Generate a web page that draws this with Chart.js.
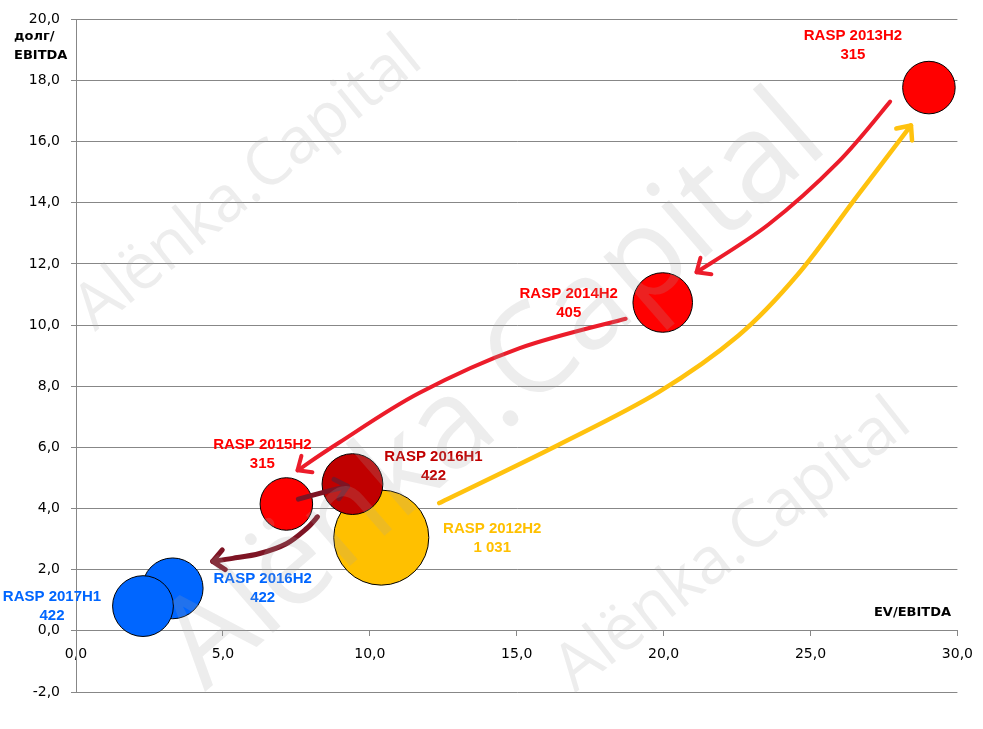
<!DOCTYPE html>
<html>
<head>
<meta charset="utf-8">
<script src="https://cdn.jsdelivr.net/npm/chart.js@4.4.0/dist/chart.umd.min.js"></script>
<style>
  html, body { margin: 0; padding: 0; background: #fff; }
  #wrap { width: 983px; height: 729px; }
</style>
</head>
<body>
<div id="wrap"><canvas id="raspChart"></canvas></div>
<script>
// данные: период, EV/EBITDA, долг/EBITDA, капитализация
const periods = ['RASP 2012H2', 'RASP 2013H2', 'RASP 2014H2', 'RASP 2015H2', 'RASP 2016H1', 'RASP 2016H2', 'RASP 2017H1'];
const evEbitda = [10.39, 29.03, 19.97, 7.16, 9.41, 3.29, 2.28];
const debtEbitda = [3.05, 17.77, 10.74, 4.15, 4.80, 1.39, 0.81];
const marketCap = [1031, 315, 405, 315, 422, 422, 422];

const xTicks = [0, 5, 10, 15, 20, 25, 30];
const yTicks = [-2, 0, 2, 4, 6, 8, 10, 12, 14, 16, 18, 20];

// стрелки (в координатах графика)
const arrow2012to2013 = [[12.36, 4.18], [16.43, 6.09], [19.83, 7.81], [22.55, 9.66], [24.58, 11.67], [26.62, 14.26], [28.42, 16.53]];
const arrow2013to2014 = [[27.71, 17.31], [25.94, 15.33], [23.57, 13.29], [21.12, 11.73]];
const arrow2014to2015 = [[18.71, 10.21], [15.08, 9.24], [11.68, 7.78], [8.96, 6.16], [7.54, 5.25]];
const arrow2015to2016 = [[7.57, 4.31], [8.45, 4.54], [9.24, 4.73]];
const arrow2016to2016 = [[8.22, 3.73], [7.84, 3.34], [7.16, 2.85], [6.25, 2.53], [5.33, 2.37], [4.65, 2.27]];

// стили
const bubbleColors = ['#FFC000', '#FF0000', '#FF0000', '#FF0000', '#C00000', '#0066FF', '#0066FF'];
const labelColors = ['#FFC000', '#FF0000', '#FF0000', '#FF0000', '#C00000', '#0066FF', '#0066FF'];
const labelOffsets = [[111, -9], [-76, -52], [-94, -9], [-24, -59], [81, -27], [90, -9], [-91, -9]];
const arrows = [
    { path: arrow2012to2013, color: '#FFC20E', width: 4.5 },
    { path: arrow2013to2014, color: '#EC1C2A', width: 4 },
    { path: arrow2014to2015, color: '#EC1C2A', width: 4 },
    { path: arrow2015to2016, color: '#7E1424', width: 5 },
    { path: arrow2016to2016, color: '#7E1424', width: 5 }
];
const gridColor = '#878787';

function fmt(v) {
    return v.toFixed(1).replace('.', ',');
}
function fmtCap(v) {
    return String(v).replace(/\B(?=(\d{3})+(?!\d))/g, ' ');
}

function drawArrow(ctx, pts, color, width) {
    ctx.save();
    ctx.strokeStyle = color;
    ctx.lineWidth = width;
    ctx.lineCap = 'round';
    ctx.lineJoin = 'round';
    ctx.beginPath();
    ctx.moveTo(pts[0][0], pts[0][1]);
    for (let i = 0; i < pts.length - 1; i++) {
        const p0 = pts[i - 1] || pts[i];
        const p1 = pts[i];
        const p2 = pts[i + 1];
        const p3 = pts[i + 2] || p2;
        const c1x = p1[0] + (p2[0] - p0[0]) / 6;
        const c1y = p1[1] + (p2[1] - p0[1]) / 6;
        const c2x = p2[0] - (p3[0] - p1[0]) / 6;
        const c2y = p2[1] - (p3[1] - p1[1]) / 6;
        ctx.bezierCurveTo(c1x, c1y, c2x, c2y, p2[0], p2[1]);
    }
    ctx.stroke();
    // наконечник
    const end = pts[pts.length - 1];
    const prev = pts[pts.length - 2];
    const ang = Math.atan2(prev[1] - end[1], prev[0] - end[0]);
    const len = 15, spread = 0.72;
    ctx.beginPath();
    ctx.moveTo(end[0] + len * Math.cos(ang - spread), end[1] + len * Math.sin(ang - spread));
    ctx.lineTo(end[0], end[1]);
    ctx.lineTo(end[0] + len * Math.cos(ang + spread), end[1] + len * Math.sin(ang + spread));
    ctx.stroke();
    ctx.restore();
}

function drawWatermark(ctx, x, y, angle, width) {
    const text = 'Alënka.Capital';
    ctx.save();
    ctx.font = '100px "Open Sans"';
    const size = 100 * width / ctx.measureText(text).width;
    ctx.font = size.toFixed(1) + 'px "Open Sans"';
    ctx.translate(x, y);
    ctx.rotate(angle * Math.PI / 180);
    ctx.fillStyle = 'rgba(165,165,165,0.2)';
    ctx.textBaseline = 'alphabetic';
    ctx.fillText(text, 0, 0);
    ctx.restore();
}

const extras = {
    id: 'extras',
    afterDatasetsDraw(chart) {
        const ctx = chart.ctx;
        const xs = chart.scales.x, ys = chart.scales.y;
        arrows.forEach(a => {
            const pts = a.path.map(p => [xs.getPixelForValue(p[0]), ys.getPixelForValue(p[1])]);
            drawArrow(ctx, pts, a.color, a.width);
        });
        ctx.save();
        ctx.font = 'bold 15px "Liberation Sans", Arial, sans-serif';
        ctx.textAlign = 'center';
        ctx.textBaseline = 'middle';
        periods.forEach((p, i) => {
            const cx = xs.getPixelForValue(evEbitda[i]) + labelOffsets[i][0];
            const cy = ys.getPixelForValue(debtEbitda[i]) + labelOffsets[i][1];
            ctx.fillStyle = labelColors[i];
            ctx.fillText(p, cx, cy);
            ctx.fillText(fmtCap(marketCap[i]), cx, cy + 19);
        });
        // подписи осей
        ctx.fillStyle = '#000';
        ctx.font = 'bold 13px "DejaVu Sans", sans-serif';
        ctx.textAlign = 'left';
        ctx.fillText('долг/', 14, 37);
        ctx.fillText('EBITDA', 14, 56);
        ctx.textAlign = 'right';
        ctx.fillText('EV/EBITDA', 951, 613);
        ctx.restore();
    },
    afterDraw(chart) {
        const ctx = chart.ctx;
        drawWatermark(ctx, 95, 332, -39, 425);
        drawWatermark(ctx, 205, 692, -41, 830);
        drawWatermark(ctx, 575, 693, -38, 430);
    }
};

const ctx = document.getElementById('raspChart').getContext('2d');
new Chart(ctx, {
    type: 'bubble',
    data: {
        datasets: [{
            label: 'RASP',
            data: periods.map((p, i) => ({ x: evEbitda[i], y: debtEbitda[i], r: 1.48 * Math.sqrt(marketCap[i]) })),
            backgroundColor: bubbleColors,
            borderColor: '#000000',
            borderWidth: 1,
            hoverRadius: 0,
            clip: false
        }]
    },
    options: {
        responsive: true,
        maintainAspectRatio: false,
        devicePixelRatio: 1,
        animation: false,
        events: [],
        layout: { autoPadding: false, padding: { left: 0, right: 23, top: 13, bottom: 37 } },
        plugins: {
            legend: { display: false },
            tooltip: { enabled: false }
        },
        scales: {
            x: {
                type: 'linear',
                position: { y: 0 },
                min: 0,
                max: 30,
                afterFit: s => { s.height = 0; },
                afterBuildTicks: s => { s.ticks = xTicks.map(v => ({ value: v })); },
                grid: { drawOnChartArea: false, drawTicks: true, tickLength: 5, color: gridColor },
                border: { display: true, color: gridColor },
                ticks: {
                    padding: 10,
                    color: '#000',
                    font: { family: '"DejaVu Sans", sans-serif', size: 14 },
                    callback: v => fmt(v)
                }
            },
            y: {
                type: 'linear',
                min: -2,
                max: 20,
                afterFit: s => { s.width = 76; },
                afterBuildTicks: s => { s.ticks = yTicks.map(v => ({ value: v })); },
                grid: { color: gridColor, tickLength: 5 },
                border: { display: true, color: gridColor },
                ticks: {
                    padding: 11,
                    color: '#000',
                    font: { family: '"DejaVu Sans", sans-serif', size: 14 },
                    callback: v => fmt(v)
                }
            }
        }
    },
    plugins: [extras]
});
</script>
</body>
</html>
